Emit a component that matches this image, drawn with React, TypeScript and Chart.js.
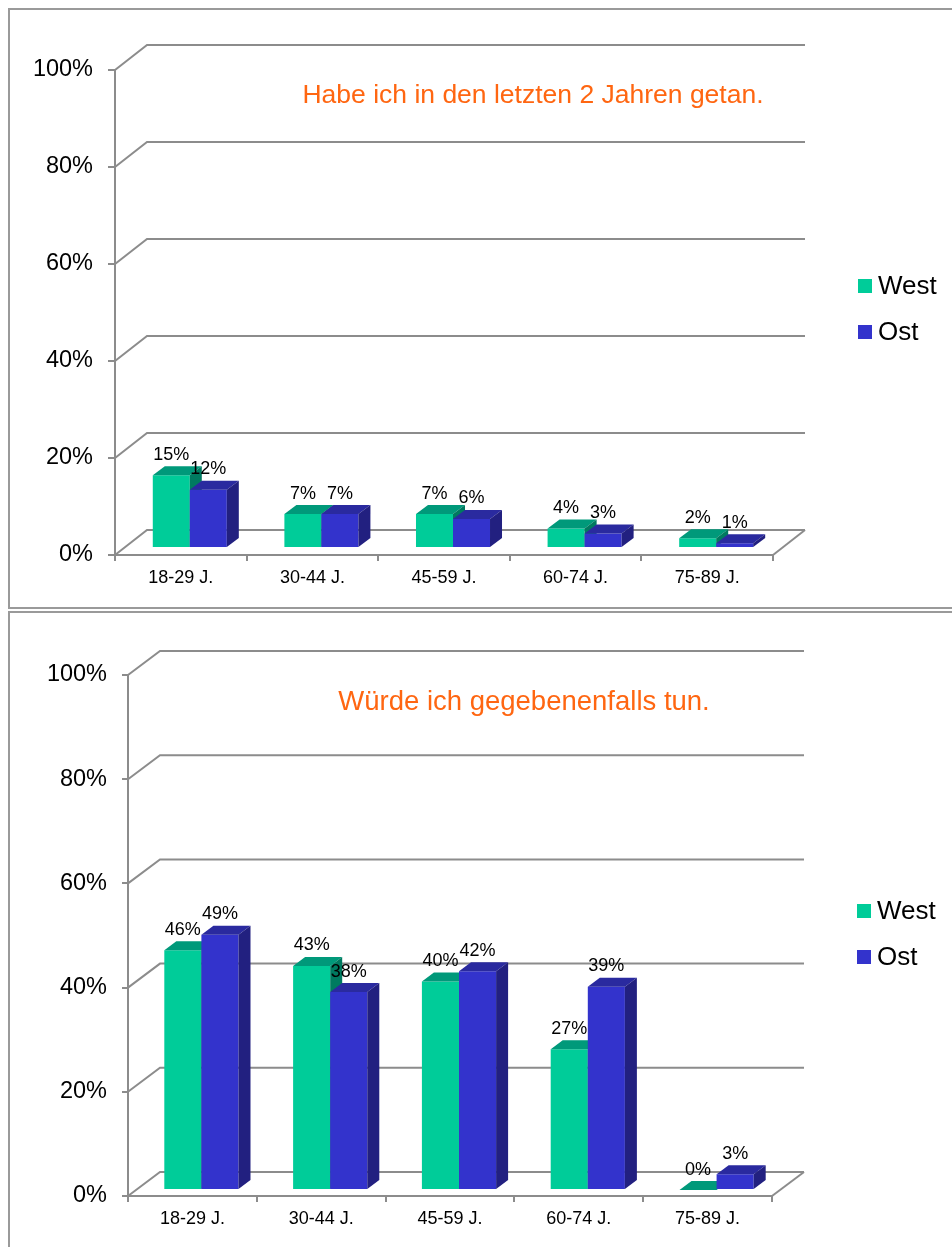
import React, { useEffect, useRef } from 'react';
import { Chart, registerables } from 'chart.js';

Chart.register(...registerables);

// Age groups on the category axis
const categories = ['18-29 J.', '30-44 J.', '45-59 J.', '60-74 J.', '75-89 J.'];
const seriesNames = ['West', 'Ost'];

// "Habe ich in den letzten 2 Jahren getan." (percent)
const doneWest = [15, 7, 7, 4, 2];
const doneOst = [12, 7, 6, 3, 1];

// "Würde ich gegebenenfalls tun." (percent)
const wouldWest = [46, 43, 40, 27, 0];
const wouldOst = [49, 38, 42, 39, 3];

const yTickValues = [0, 20, 40, 60, 80, 100];
const titles = ['Habe ich in den letzten 2 Jahren getan.', 'Würde ich gegebenenfalls tun.'];

const FONT = '"Liberation Sans", Arial, Helvetica, sans-serif';
const GRID = '#8c8c8c';
const TITLE_COLOR = '#ff6611';

// front / top / side shading of the 3D columns
const faces = [
  { front: '#00cc99', top: '#00997a', side: '#007a60' },
  { front: '#3333cc', top: '#2a2a9f', side: '#222080' },
];

type PanelCfg = {
  top: number;
  height: number;
  padTop: number;
  padRight: number;
  yWidth: number;
  xHeight: number;
  yTickLen: number;
  catPct: number;
  wall: { dx: number; dy: number };
  shift: { x: number; y: number };
  bar: { dx: number; dy: number };
  title: { x: number; y: number; size: number };
  legend: { x: number; y: number; step: number };
};

const panel1: PanelCfg = {
  top: 8,
  height: 597,
  padTop: 60,
  padRight: 179,
  yWidth: 105,
  xHeight: 52,
  yTickLen: 7,
  catPct: 0.5625,
  wall: { dx: 32, dy: -25 },
  shift: { x: 9, y: -7 },
  bar: { dx: 12, dy: -9 },
  title: { x: 523, y: 93, size: 26.5 },
  legend: { x: 848, y: 276, step: 46 },
};

const panel2: PanelCfg = {
  top: 611,
  height: 640,
  padTop: 62,
  padRight: 180,
  yWidth: 118,
  xHeight: 57,
  yTickLen: 6,
  catPct: 0.576,
  wall: { dx: 32, dy: -24 },
  shift: { x: 9, y: -6 },
  bar: { dx: 12, dy: -9 },
  title: { x: 514, y: 97, size: 27.5 },
  legend: { x: 847, y: 298, step: 46 },
};

function fillPoly(ctx: CanvasRenderingContext2D, pts: number[][]) {
  ctx.beginPath();
  ctx.moveTo(pts[0][0], pts[0][1]);
  for (let i = 1; i < pts.length; i++) ctx.lineTo(pts[i][0], pts[i][1]);
  ctx.closePath();
  ctx.fill();
}

// Draws the back wall, the floor edge and the extruded columns with value labels.
const threeDPlugin = {
  id: 'threeD',
  beforeDatasetsDraw(chart: any, _args: any, opts: any) {
    const { ctx, chartArea: a, scales } = chart;
    const ys = scales.y;
    const { dx, dy } = opts.wall;
    ctx.save();
    ctx.strokeStyle = GRID;
    ctx.lineWidth = 2;
    ys.ticks.forEach((t: any) => {
      const py = ys.getPixelForValue(t.value);
      ctx.beginPath();
      ctx.moveTo(a.left, py);
      ctx.lineTo(a.left + dx, py + dy);
      ctx.lineTo(a.right + dx, py + dy);
      ctx.stroke();
    });
    const p0 = ys.getPixelForValue(0);
    ctx.beginPath();
    ctx.moveTo(a.right, p0);
    ctx.lineTo(a.right + dx, p0 + dy);
    ctx.stroke();

    ctx.translate(opts.shift.x, opts.shift.y);
    const bx = opts.bar.dx;
    const by = opts.bar.dy;
    chart.data.datasets.forEach((_ds: any, i: number) => {
      const meta = chart.getDatasetMeta(i);
      const f = faces[i];
      meta.data.forEach((el: any) => {
        const { x, y, base, width } = el.getProps(['x', 'y', 'base', 'width'], true);
        el.draw(ctx, a);
        const x0 = x - width / 2;
        const x1 = x + width / 2;
        ctx.fillStyle = f.top;
        fillPoly(ctx, [[x0, y], [x1, y], [x1 + bx, y + by], [x0 + bx, y + by]]);
        ctx.fillStyle = f.side;
        fillPoly(ctx, [[x1, y], [x1 + bx, y + by], [x1 + bx, base + by], [x1, base]]);
      });
    });

    ctx.fillStyle = '#000';
    ctx.font = `18px ${FONT}`;
    ctx.textAlign = 'center';
    ctx.textBaseline = 'alphabetic';
    chart.data.datasets.forEach((ds: any, i: number) => {
      const meta = chart.getDatasetMeta(i);
      meta.data.forEach((el: any, j: number) => {
        const { x, y } = el.getProps(['x', 'y'], true);
        ctx.fillText(`${ds.data[j]}%`, x, y + by - 6.5);
      });
    });
    ctx.restore();
    return false;
  },
  afterDraw(chart: any, _args: any, opts: any) {
    const { ctx } = chart;
    ctx.save();
    ctx.fillStyle = TITLE_COLOR;
    ctx.font = `${opts.titlePos.size}px ${FONT}`;
    ctx.textAlign = 'center';
    ctx.textBaseline = 'alphabetic';
    ctx.fillText(opts.title, opts.titlePos.x, opts.titlePos.y);

    const lg = opts.legend;
    ctx.font = `26px ${FONT}`;
    ctx.textAlign = 'left';
    ctx.textBaseline = 'middle';
    chart.data.datasets.forEach((ds: any, i: number) => {
      const cy = lg.y + i * lg.step;
      ctx.fillStyle = ds.backgroundColor;
      ctx.fillRect(lg.x, cy - 7, 14, 14);
      ctx.fillStyle = '#000';
      ctx.fillText(ds.label, lg.x + 20, cy + 1);
    });
    ctx.restore();
  },
};

function Panel({ cfg, west, ost, title }: { cfg: PanelCfg; west: number[]; ost: number[]; title: string }) {
  const ref = useRef<HTMLCanvasElement>(null);
  useEffect(() => {
    if (!ref.current) return;
    const chart = new Chart(ref.current, {
      type: 'bar',
      data: {
        labels: categories,
        datasets: [west, ost].map((d, i) => ({
          label: seriesNames[i],
          data: d,
          backgroundColor: faces[i].front,
          borderWidth: 0,
          categoryPercentage: cfg.catPct,
          barPercentage: 1,
        })),
      },
      options: {
        responsive: false,
        animation: false,
        layout: { padding: { top: cfg.padTop, right: cfg.padRight, left: 0, bottom: 0 } },
        plugins: {
          legend: { display: false },
          tooltip: { enabled: false },
          threeD: {
            wall: cfg.wall,
            shift: cfg.shift,
            bar: cfg.bar,
            title,
            titlePos: cfg.title,
            legend: cfg.legend,
          },
        } as any,
        scales: {
          x: {
            type: 'category',
            offset: true,
            grid: {
              offset: true,
              drawOnChartArea: false,
              drawTicks: true,
              tickLength: 6,
              color: GRID,
              lineWidth: 2,
            },
            border: { display: true, color: GRID, width: 2 },
            ticks: { color: '#000', font: { family: FONT, size: 18 }, padding: 6, maxRotation: 0 },
            afterFit: (s: any) => {
              s.height = cfg.xHeight;
            },
          },
          y: {
            min: 0,
            max: 100,
            afterBuildTicks: (s: any) => {
              s.ticks = yTickValues.map((v) => ({ value: v }));
            },
            grid: {
              drawOnChartArea: false,
              drawTicks: true,
              tickLength: cfg.yTickLen,
              color: GRID,
              lineWidth: 2,
            },
            border: { display: true, color: GRID, width: 2 },
            ticks: {
              color: '#000',
              font: { family: FONT, size: 23.5 },
              padding: 15,
              callback: (v: any) => `${v}%`,
            },
            afterFit: (s: any) => {
              s.width = cfg.yWidth;
            },
          },
        },
      },
      plugins: [threeDPlugin],
    } as any);
    return () => chart.destroy();
  }, []);
  return (
    <div
      style={{
        position: 'absolute',
        left: 8,
        top: cfg.top,
        width: 1000,
        height: cfg.height,
        border: '2px solid #9a9a9a',
        background: '#fff',
      }}
    >
      <canvas ref={ref} width={942} height={cfg.height} style={{ display: 'block', width: 942, height: cfg.height }} />
    </div>
  );
}

export default function App() {
  return (
    <div
      style={{
        position: 'fixed',
        left: 0,
        top: 0,
        width: 952,
        height: 1247,
        overflow: 'hidden',
        background: '#fff',
      }}
    >
      <Panel cfg={panel1} west={doneWest} ost={doneOst} title={titles[0]} />
      <Panel cfg={panel2} west={wouldWest} ost={wouldOst} title={titles[1]} />
    </div>
  );
}
